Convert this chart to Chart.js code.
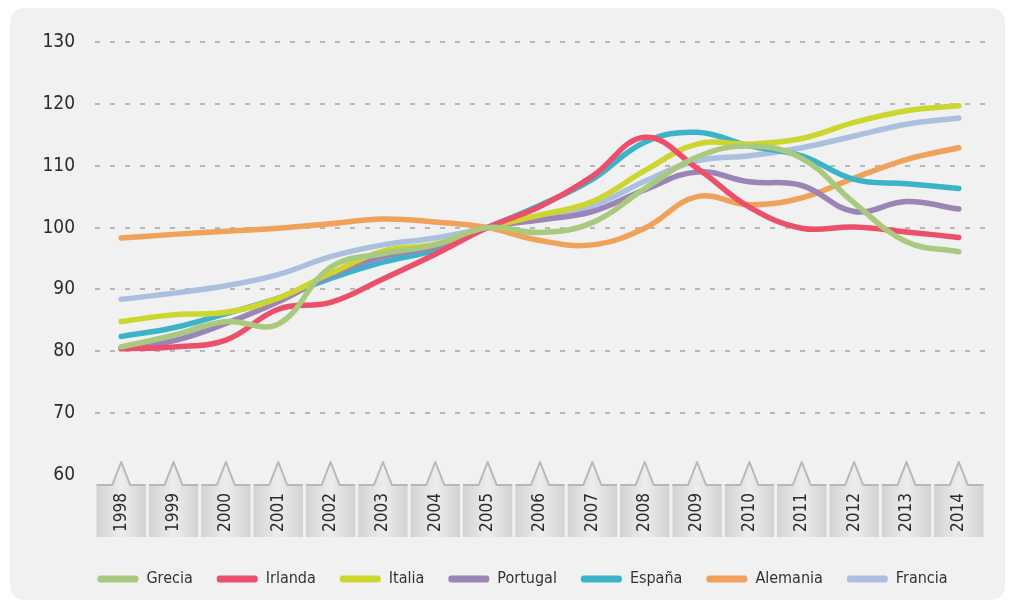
<!DOCTYPE html>
<html>
<head>
<meta charset="utf-8">
<script src="https://cdn.jsdelivr.net/npm/chart.js@4"></script>
<style>
  body { margin: 0; background: #fff; }
  .panel { position: absolute; left: 10px; top: 8px; width: 995px; height: 592px; background: #f1f1f1; border-radius: 14px; }
  canvas { position: absolute; left: 0; top: 0; }
</style>
</head>
<body>
<div class="panel"></div>
<canvas id="myChart" width="1011" height="606"></canvas>
<script>
const years = ["1998", "1999", "2000", "2001", "2002", "2003", "2004", "2005", "2006", "2007", "2008", "2009", "2010", "2011", "2012", "2013", "2014"];

const grecia = [80.7, 82.6, 84.8, 84.4, 93.6, 95.8, 97.2, 100, 99.2, 100.8, 106.3, 111.4, 113.2, 111.2, 104, 97.7, 96.1];
const irlanda = [80.4, 80.7, 81.8, 86.8, 87.9, 91.7, 95.7, 100, 103.4, 108.3, 114.6, 109.6, 103.3, 99.9, 100.1, 99.3, 98.4];
const italia = [84.8, 85.9, 86.3, 88.6, 92.6, 96.2, 97.3, 100, 102, 104.2, 109.2, 113.5, 113.5, 114.4, 117, 118.9, 119.7];
const portugal = [80.6, 81.7, 84.5, 88, 92.3, 95.3, 96.9, 100, 101.2, 102.6, 106.1, 109, 107.4, 106.8, 102.6, 104.2, 103];
const espana = [82.4, 83.8, 86.1, 88.6, 91.8, 94.4, 96.4, 100, 103.6, 107.8, 113.8, 115.4, 113.2, 111.6, 107.8, 107.1, 106.3];
const alemania = [98.3, 98.9, 99.4, 99.9, 100.6, 101.4, 100.9, 100, 97.9, 97.2, 99.9, 105, 103.7, 104.8, 108, 111, 112.9];
const francia = [88.4, 89.4, 90.6, 92.4, 95.3, 97.2, 98.3, 100, 102, 103.5, 107.5, 110.8, 111.6, 112.9, 114.8, 116.7, 117.7];

const FONT = "'Liberation Sans Narrow', 'DejaVu Sans Condensed', 'Roboto', sans-serif";

function line(label, data, color) {
    return {
        label: label,
        data: data,
        borderColor: color,
        backgroundColor: color,
        borderWidth: 5.5,
        pointRadius: 0,
        tension: 0.4,
        borderCapStyle: "round",
    };
}

// grey tabs behind the year labels
const yearTabs = {
    id: "yearTabs",
    beforeDraw(chart) {
        const ctx = chart.ctx;
        const x = chart.scales.x;
        const step = x.width / years.length;
        const w = step - 3;
        const top = 485, bottom = 537, peak = 462;
        ctx.save();
        years.forEach((y, i) => {
            const cx = x.getPixelForTick(i);
            const l = cx - w / 2, r = cx + w / 2;
            const g = ctx.createLinearGradient(l, 0, r, 0);
            g.addColorStop(0, "#d2d2d2");
            g.addColorStop(0.5, "#ededed");
            g.addColorStop(1, "#d2d2d2");
            ctx.beginPath();
            ctx.moveTo(l, top);
            ctx.lineTo(cx - 9, top);
            ctx.lineTo(cx, peak);
            ctx.lineTo(cx + 9, top);
            ctx.lineTo(r, top);
            ctx.lineTo(r, bottom);
            ctx.lineTo(l, bottom);
            ctx.closePath();
            ctx.fillStyle = g;
            ctx.fill();
            // darker top edge
            ctx.beginPath();
            ctx.moveTo(l, top);
            ctx.lineTo(cx - 9, top);
            ctx.lineTo(cx, peak);
            ctx.lineTo(cx + 9, top);
            ctx.lineTo(r, top);
            ctx.strokeStyle = "#b8b8b8";
            ctx.lineWidth = 2;
            ctx.lineJoin = "round";
            ctx.stroke();
        });
        ctx.restore();
    },
};

// nudge the legend to sit under the plot area like the original
const shiftLegend = {
    id: "shiftLegend",
    afterLayout(chart) {
        chart.legend.left += 30;
        chart.legend.right += 30;
    },
};

const ctx = document.getElementById("myChart").getContext("2d");
const chart = new Chart(ctx, {
    type: "line",
    data: {
        labels: years,
        datasets: [
            line("Grecia", grecia, "#a9c97f"),
            line("Irlanda", irlanda, "#ec4f6a"),
            line("Italia", italia, "#ccd62e"),
            line("Portugal", portugal, "#9b84b6"),
            line("España", espana, "#3db3c9"),
            line("Alemania", alemania, "#f0a25b"),
            line("Francia", francia, "#abc0de"),
        ],
    },
    options: {
        responsive: false,
        animation: false,
        layout: {
            padding: { left: 0, right: 26, top: 42, bottom: 9 },
        },
        plugins: {
            legend: {
                position: "bottom",
                labels: {
                    boxWidth: 41,
                    boxHeight: 7,
                    useBorderRadius: true,
                    borderRadius: 3,
                    padding: 24,
                    color: "#333",
                    font: { family: FONT, size: 16 },
                    generateLabels: (c) =>
                        Chart.defaults.plugins.legend.labels
                            .generateLabels(c)
                            .map((l) => ({ ...l, lineWidth: 0 })),
                },
            },
            tooltip: { enabled: false },
        },
        scales: {
            y: {
                min: 60,
                max: 130,
                ticks: {
                    stepSize: 10,
                    padding: 20,
                    color: "#2b2b2b",
                    font: { family: FONT, size: 19 },
                },
                grid: {
                    drawTicks: false,
                    lineWidth: 2,
                    color: (c) => (c.tick && c.tick.value === 60 ? "rgba(0,0,0,0)" : "#b8b8b8"),
                },
                border: { display: false, dash: [5, 10] },
                afterFit: (scale) => {
                    scale.width = 95;
                },
            },
            x: {
                offset: true,
                grid: { display: false, drawTicks: false },
                border: { display: false },
                ticks: {
                    minRotation: 90,
                    maxRotation: 90,
                    padding: 18,
                    color: "#2b2b2b",
                    font: { family: FONT, size: 17 },
                },
                afterFit: (scale) => {
                    scale.height = 72;
                },
            },
        },
    },
    plugins: [yearTabs, shiftLegend],
});
</script>
</body>
</html>
